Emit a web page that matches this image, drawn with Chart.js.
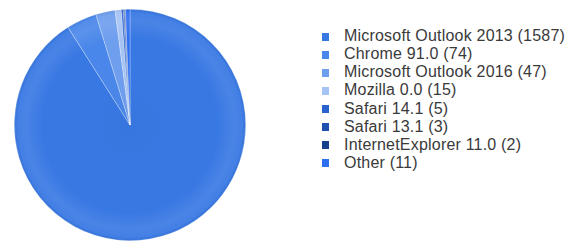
<!DOCTYPE html>
<html>
<head>
<meta charset="utf-8">
<script src="https://cdn.jsdelivr.net/npm/chart.js@4/dist/chart.umd.min.js"></script>
<style>
  html, body { margin: 0; padding: 0; background: #ffffff; }
  body { width: 568px; height: 241px; position: relative; overflow: hidden; }
  #wrap { position: absolute; left: 0; top: 0; width: 260px; height: 241px; }
  #legend { position: absolute; left: 322px; top: 27px; width: 246px; font-family: "Liberation Sans", Arial, sans-serif; font-size: 16px; letter-spacing: 0.2px; color: #3a3a3a; }
  .row { height: 18.15px; line-height: 18.15px; white-space: nowrap; position: relative; }
  .sw { position: absolute; left: 0; top: 5.5px; width: 7px; height: 8px; }
  .tx { position: absolute; left: 22px; top: 0; white-space: nowrap; }
</style>
</head>
<body>
<div id="wrap"><canvas id="c"></canvas></div>
<div id="legend"></div>
<script>
const categories = ["Microsoft Outlook 2013", "Chrome 91.0", "Microsoft Outlook 2016", "Mozilla 0.0", "Safari 14.1", "Safari 13.1", "InternetExplorer 11.0", "Other"];
const counts = [1587, 74, 47, 15, 5, 3, 2, 11];
const colors = ["#3878e3", "#4a87ea", "#6e9eee", "#a5c3f5", "#2a62cf", "#1f52b0", "#163f8c", "#2e6ff2"];

const legend = document.getElementById('legend');
categories.forEach((name, i) => {
  const row = document.createElement('div');
  row.className = 'row';
  const sw = document.createElement('span');
  sw.className = 'sw';
  sw.style.background = colors[i];
  const tx = document.createElement('span');
  tx.className = 'tx';
  tx.textContent = name + ' (' + counts[i] + ')';
  row.appendChild(sw);
  row.appendChild(tx);
  legend.appendChild(row);
});

const shade = {
  id: 'shade',
  afterDatasetsDraw(chart) {
    const arc = chart.getDatasetMeta(0).data[0];
    if (!arc) return;
    const { x, y, outerRadius: r } = arc.getProps(['x', 'y', 'outerRadius'], true);
    const ctx = chart.ctx;
    ctx.save();
    const g = ctx.createRadialGradient(x, y, 0, x, y, r);
    g.addColorStop(0, 'rgba(0,0,0,0.02)');
    g.addColorStop(0.75, 'rgba(255,255,255,0)');
    g.addColorStop(0.9, 'rgba(255,255,255,0.09)');
    g.addColorStop(0.97, 'rgba(255,255,255,0.06)');
    g.addColorStop(1, 'rgba(0,0,0,0.04)');
    ctx.fillStyle = g;
    ctx.beginPath();
    ctx.arc(x, y, r, 0, Math.PI * 2);
    ctx.fill();
    ctx.restore();
  }
};

new Chart(document.getElementById('c'), {
  type: 'pie',
  data: {
    labels: categories,
    datasets: [{
      data: counts,
      backgroundColor: colors,
      borderColor: 'rgba(255,255,255,0.45)',
      borderWidth: 0.6
    }]
  },
  options: {
    responsive: true,
    maintainAspectRatio: false,
    animation: false,
    layout: { padding: { top: 9, bottom: 0, left: 0, right: 0 } },
    plugins: {
      legend: { display: false },
      tooltip: { enabled: false }
    }
  },
  plugins: [shade]
});
</script>
</body>
</html>
